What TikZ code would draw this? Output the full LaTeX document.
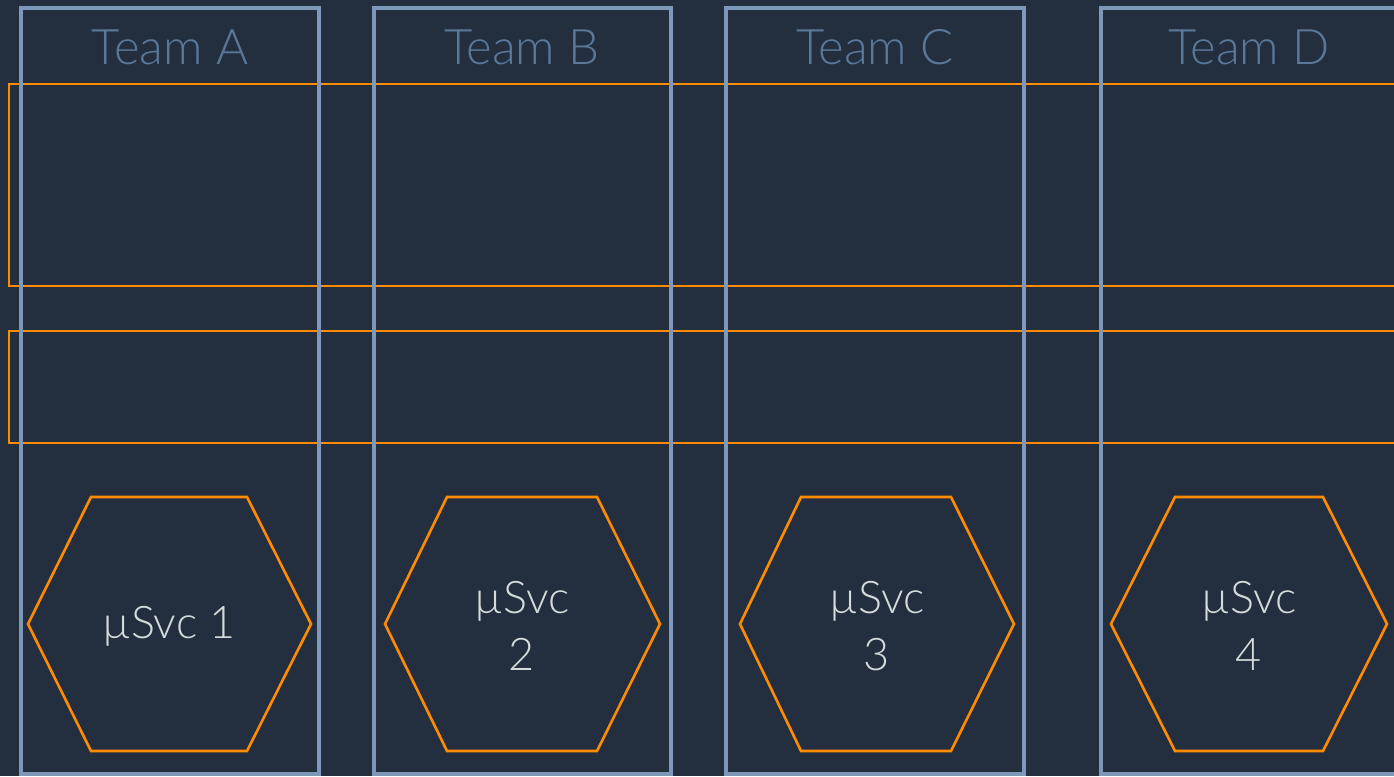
\documentclass[tikz,border=0pt]{standalone}
\usepackage{fontspec}
\setmainfont{Lato Light}
\definecolor{bg}{HTML}{232F3E}
\definecolor{teamline}{HTML}{7D98B8}
\definecolor{teamtext}{HTML}{5A7899}
\definecolor{aws}{HTML}{FF8C00}
\definecolor{svctext}{HTML}{D5DBDB}
\begin{document}
\begin{tikzpicture}[x=1pt,y=-1pt,
  teambox/.style={draw=teamline,line width=4.5pt},
  layerbox/.style={draw=aws,line width=2.6pt},
  hexline/.style={draw=aws,line width=2.6pt,line join=miter},
  teamlabel/.style={text=teamtext,font=\fontsize{49}{55}\selectfont,inner sep=0pt,anchor=base},
  svclabel/.style={text=svctext,font=\fontsize{45}{57}\selectfont,align=center,inner sep=0pt}]
\fill[bg] (0,0) rectangle (1394,776);
\useasboundingbox (0,0) rectangle (1394,776);
\clip (0,0) rectangle (1394,776);
% layer rectangles
\draw[layerbox] (9,84) rectangle (1410,286);
\draw[layerbox] (9,331) rectangle (1410,443);
% hexagons
\draw[hexline] (28,624) -- (91,497) -- (247,497) -- (311,624) -- (247,751) -- (91,751) -- cycle;
\draw[hexline] (385,624) -- (447,497) -- (597,497) -- (660,624) -- (597,751) -- (447,751) -- cycle;
\draw[hexline] (740,624) -- (801,497) -- (951,497) -- (1014,624) -- (951,751) -- (801,751) -- cycle;
\draw[hexline] (1111,624) -- (1175,497) -- (1323,497) -- (1387,624) -- (1323,751) -- (1175,751) -- cycle;
\node[svclabel] (s1) at (169,626) {µSvc 1};
\node[svclabel] (s2) at (522,626) {µSvc\\2};
\node[svclabel] (s3) at (877,626) {µSvc\\3};
\node[svclabel] (s4) at (1249,626) {µSvc\\4};
% team boxes
\draw[teambox] (21,8) rectangle (319,774);
\draw[teambox] (374,8) rectangle (671,774);
\draw[teambox] (726,8) rectangle (1024,774);
\draw[teambox] (1101,8) rectangle (1399,774);
\node[teamlabel] (ta) at (170,64) {Team A};
\node[teamlabel] (tb) at (522,64) {Team B};
\node[teamlabel] (tc) at (875,64) {Team C};
\node[teamlabel] (td) at (1249,64) {Team D};
\end{tikzpicture}
\end{document}
